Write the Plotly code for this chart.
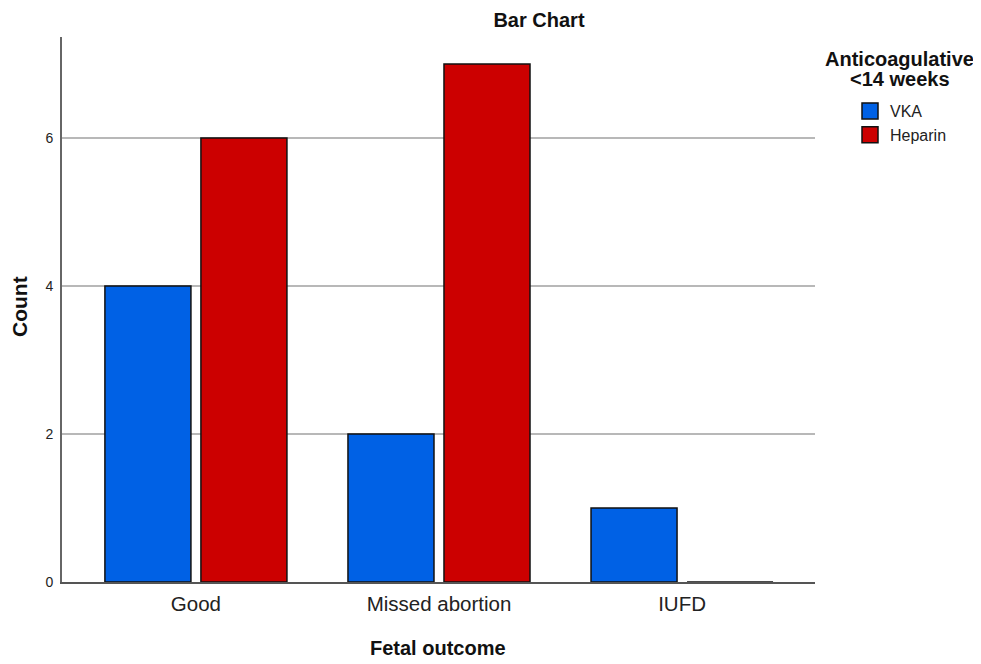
import plotly.graph_objects as go

categories = ["Good", "Missed abortion", "IUFD"]
vka = [4, 2, 1]
heparin = [6, 7, 0]
series_names = ["VKA", "Heparin"]
series_colors = ["#0061E5", "#CC0000"]
y_ticks = [0, 2, 4, 6]

# page body has an 8px margin, so the figure is a little smaller than the window
W, H = 973, 656
L, R, T, B = 54, 166, 29, 82
PW, PH = W - L - R, H - T - B


def px(xf):
    return (xf - L) / PW


def py(yf):
    return (H - B - yf) / PH


fig = go.Figure()
for name, vals, col in zip(series_names, [vka, heparin], series_colors):
    fig.add_trace(go.Bar(
        x=categories, y=vals, name=name, showlegend=False,
        marker=dict(color=col, line=dict(color="#111111", width=1.5)),
    ))
# legend entries with larger square swatches
for name, col in zip(series_names, series_colors):
    fig.add_trace(go.Scatter(
        x=[None], y=[None], mode="markers", name=name,
        marker=dict(symbol="square", size=16, color=col,
                    line=dict(color="#111111", width=1.5)),
    ))

fig.update_layout(
    width=W, height=H,
    margin=dict(l=L, r=R, t=T, b=B, autoexpand=False),
    paper_bgcolor="white", plot_bgcolor="white",
    barmode="group", bargap=0.21, bargroupgap=0.104,
    font=dict(family="Liberation Sans, Arial, sans-serif", color="#222222"),
    title=dict(text="<b>Bar Chart</b>", x=531 / W, xref="container", xanchor="center",
               y=1 - 11.5 / H, yref="container", yanchor="middle",
               font=dict(size=20, color="#111111")),
    showlegend=True,
    legend=dict(
        x=px(842), xanchor="left", xref="paper",
        y=py(86), yanchor="top",
        font=dict(size=16, color="#222222"),
        itemsizing="trace", tracegroupgap=0,
        bgcolor="rgba(0,0,0,0)",
    ),
    xaxis=dict(
        range=[-0.551, 2.547], showgrid=False, showline=True,
        linecolor="#555555", linewidth=2, ticks="", zeroline=False,
        tickfont=dict(size=20.5, color="#222222"),
        ticklabelstandoff=2,
    ),
    yaxis=dict(
        range=[0, 7.365], tickvals=y_ticks, showgrid=True, gridcolor="#B8B8B8", gridwidth=1.5,
        showline=True, linecolor="#666666", linewidth=2, ticks="", zeroline=False,
        tickfont=dict(size=14, color="#222222"),
        ticklabelstandoff=4,
    ),
    annotations=[
        dict(text="<b>Anticoagulative</b>", x=px(892), y=py(50.5), xref="paper", yref="paper",
             xanchor="center", yanchor="middle", showarrow=False,
             font=dict(size=20, color="#111111")),
        dict(text="<b><14 weeks</b>", x=px(892), y=py(71), xref="paper", yref="paper",
             xanchor="center", yanchor="middle", showarrow=False,
             font=dict(size=20, color="#111111")),
        dict(text="<b>Count</b>", x=px(11), y=py(299), xref="paper", yref="paper",
             xanchor="center", yanchor="middle", showarrow=False, textangle=-90,
             font=dict(size=21, color="#111111")),
        dict(text="<b>Fetal outcome</b>", x=px(430), y=py(640), xref="paper", yref="paper",
             xanchor="center", yanchor="middle", showarrow=False,
             font=dict(size=20, color="#111111")),
    ],
)

fig.write_html("out.html")
